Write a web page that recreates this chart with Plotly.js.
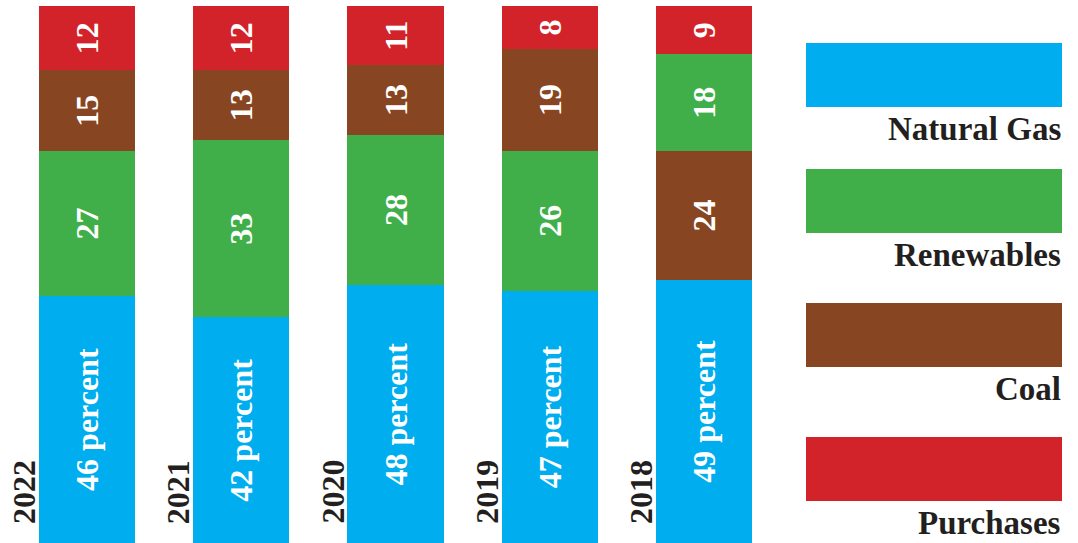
<!DOCTYPE html>
<html>
<head>
<meta charset="utf-8">
<script src="https://cdn.plot.ly/plotly-3.0.1.min.js"></script>
<style>html,body{margin:0;padding:0;background:#fff;}#chart{width:1078px;height:543px;}</style>
</head>
<body>
<div id="chart"></div>
<script>
// ---- data ----
var years = ['2022', '2021', '2020', '2019', '2018'];
var naturalGas = [46, 42, 48, 47, 49];
var renewables = [27, 33, 28, 26, 18];
var coal = [15, 13, 13, 19, 24];
var purchases = [12, 12, 11, 8, 9];
// true where coal sits below renewables in the stack
var coalBelowRenewables = [false, false, false, false, true];
var seriesNames = ['Natural Gas', 'Renewables', 'Coal', 'Purchases'];
var seriesColors = ['#00AEEF', '#40AF4A', '#874521', '#D2232A'];

var W = 1078, H = 543;
var labelFont = {family: 'Liberation Serif', size: 32, color: '#ffffff'};

function bar(name, vals, color, tmpl) {
  return {
    type: 'bar', x: years, y: vals, name: name,
    marker: {color: color, line: {width: 0}},
    texttemplate: tmpl || '<b>%{y}</b>',
    textposition: 'inside', insidetextanchor: 'middle',
    textangle: -90, constraintext: 'none',
    insidetextfont: labelFont,
    hoverinfo: 'skip', showlegend: false, cliponaxis: false
  };
}
var renLower = renewables.map(function (v, i) { return coalBelowRenewables[i] ? null : v; });
var renUpper = renewables.map(function (v, i) { return coalBelowRenewables[i] ? v : null; });

var traces = [
  bar(seriesNames[0], naturalGas, seriesColors[0], '<b>%{y} percent</b>'),
  bar(seriesNames[1], renLower, seriesColors[1]),
  bar(seriesNames[2], coal, seriesColors[2]),
  bar(seriesNames[1], renUpper, seriesColors[1]),
  bar(seriesNames[3], purchases, seriesColors[3])
];

var annotations = years.map(function (y, i) {
  return {
    x: i, y: 0, xref: 'x', yref: 'y', text: '<b>' + y + '</b>',
    textangle: -90, showarrow: false, xanchor: 'center', yanchor: 'bottom',
    xshift: -63, yshift: 17,
    font: {family: 'Liberation Serif', size: 32, color: '#231f20'}
  };
});

// custom legend: big swatches with labels below
var legendTops = [43, 169, 303, 437];
var shapes = [];
seriesNames.forEach(function (n, i) {
  var t = legendTops[i];
  shapes.push({
    type: 'rect', xref: 'paper', yref: 'paper',
    x0: 806 / W, x1: 1062 / W, y0: 1 - (t + 64) / H, y1: 1 - t / H,
    fillcolor: seriesColors[i], line: {width: 0}
  });
  annotations.push({
    xref: 'paper', yref: 'paper', x: 1063 / W, y: 1 - (t + 66) / H,
    xanchor: 'right', yanchor: 'top', showarrow: false,
    text: '<b>' + n + '</b>',
    font: {family: 'Liberation Serif', size: 33, color: '#231f20'}
  });
});

var layout = {
  width: W, height: H,
  margin: {l: 0, r: 0, t: 0, b: 0, pad: 0},
  paper_bgcolor: '#ffffff', plot_bgcolor: '#ffffff',
  barmode: 'stack', bargap: 0.377,
  xaxis: {domain: [10 / W, 781 / W], type: 'category', range: [-0.5, 4.5], autorange: false,
          showticklabels: false, showgrid: false, zeroline: false, showline: false, ticks: ''},
  yaxis: {domain: [0, 1 - 6 / H], range: [0, 100], autorange: false, showticklabels: false,
          showgrid: false, zeroline: false, showline: false, ticks: ''},
  showlegend: false,
  annotations: annotations,
  shapes: shapes
};

Plotly.newPlot('chart', traces, layout, {displayModeBar: false, staticPlot: true});
</script>
</body>
</html>
